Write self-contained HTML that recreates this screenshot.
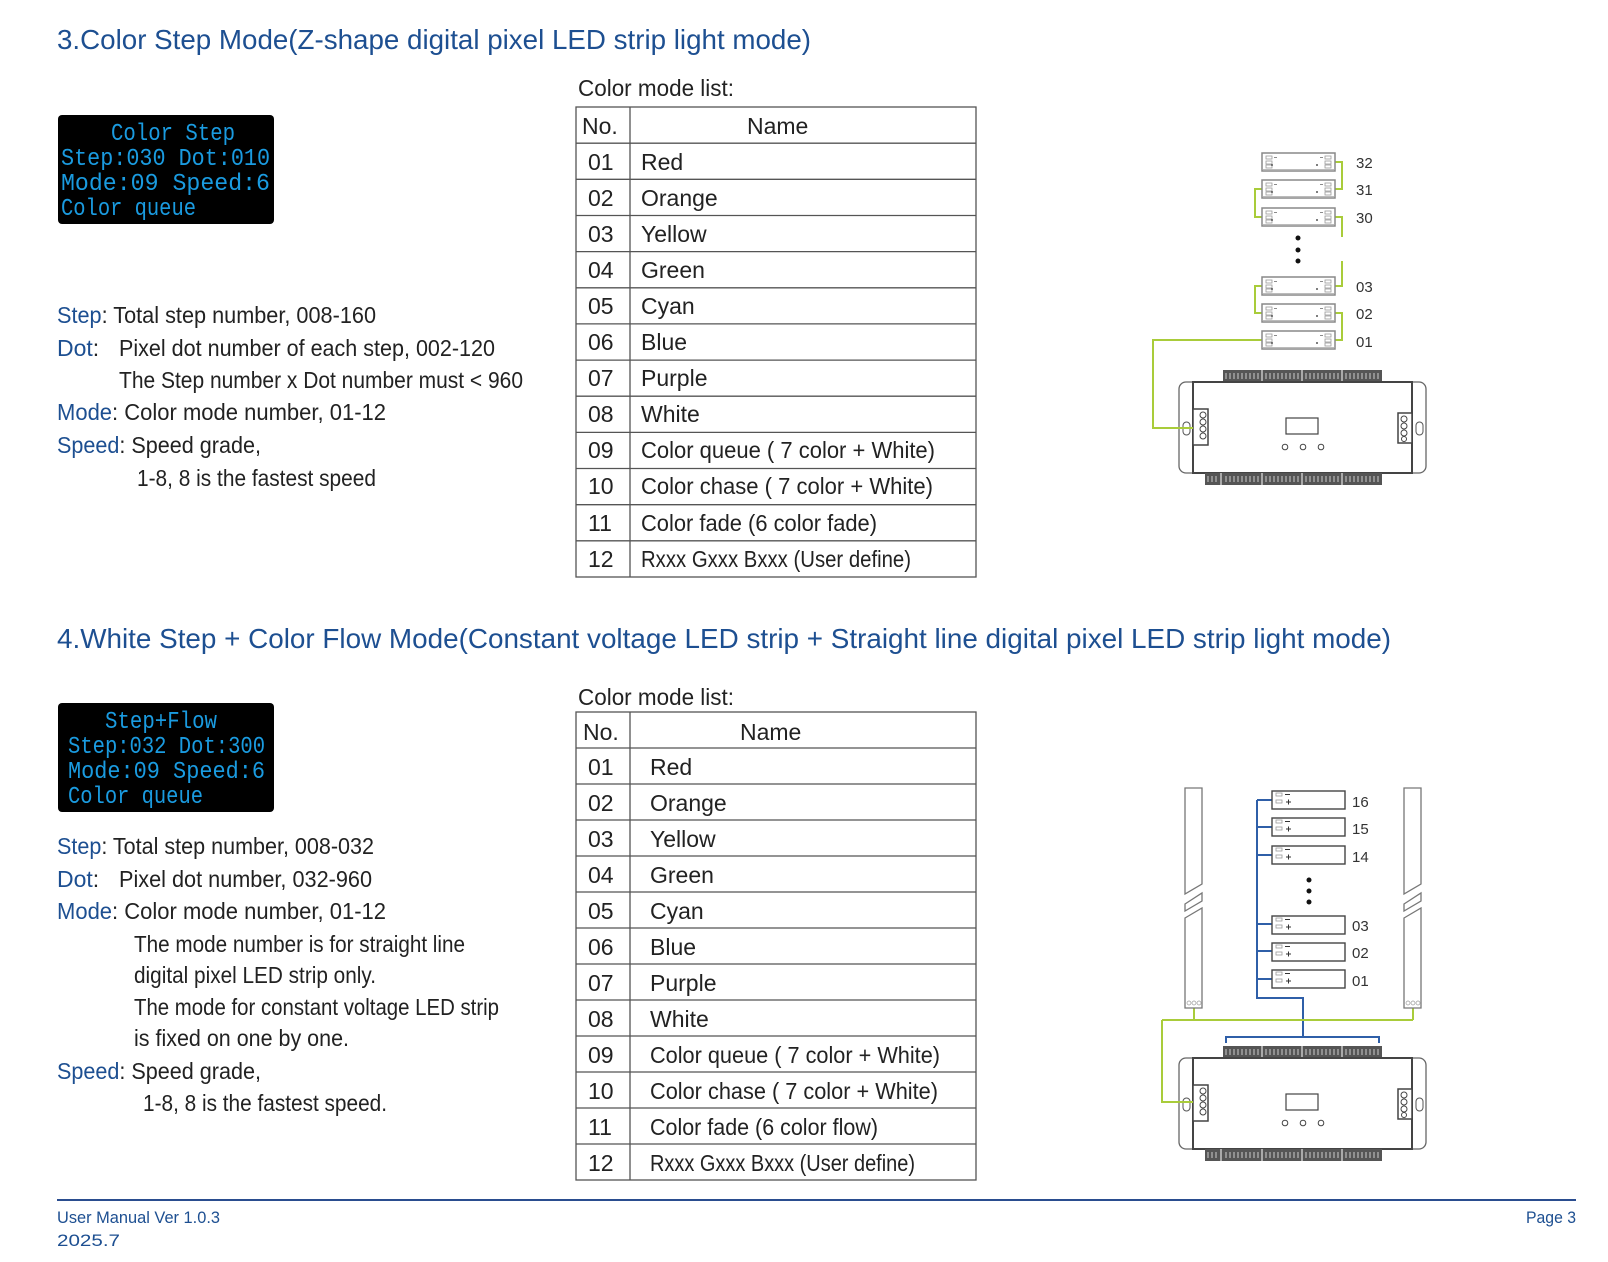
<!DOCTYPE html>
<html><head><meta charset="utf-8"><style>
html,body{margin:0;padding:0;background:#fff;width:1608px;height:1262px;overflow:hidden}
svg{display:block}
.t{font-family:"Liberation Sans",sans-serif;fill:#1d4f91}
.b{font-family:"Liberation Sans",sans-serif;fill:#222;font-size:23px}
.bl{fill:#1d4f91}
.m{font-family:"Liberation Mono",monospace;fill:#1a9be0;font-size:24px}
.n{font-family:"Liberation Sans",sans-serif;fill:#333;font-size:15px}
</style></head><body>
<svg width="1608" height="1262" viewBox="0 0 1608 1262" xmlns="http://www.w3.org/2000/svg">
<text class="t" x="57" y="49" font-size="28" textLength="754" lengthAdjust="spacingAndGlyphs">3.Color Step Mode(Z-shape digital pixel LED strip light mode)</text>
<text class="t" x="57" y="648" font-size="28" textLength="1334" lengthAdjust="spacingAndGlyphs">4.White Step + Color Flow Mode(Constant voltage LED strip + Straight line digital pixel LED strip light mode)</text>

<rect x="58" y="115" width="216" height="109" rx="4" fill="#000"/>
<text class="m" x="111" y="140" textLength="124" lengthAdjust="spacingAndGlyphs">Color Step</text>
<text class="m" x="61" y="165" textLength="209" lengthAdjust="spacingAndGlyphs">Step:030  Dot:010</text>
<text class="m" x="61" y="190" textLength="209" lengthAdjust="spacingAndGlyphs">Mode:09   Speed:6</text>
<text class="m" x="61" y="215" textLength="135" lengthAdjust="spacingAndGlyphs">Color queue</text>

<rect x="58" y="703" width="216" height="109" rx="4" fill="#000"/>
<text class="m" x="105" y="728" textLength="112" lengthAdjust="spacingAndGlyphs">Step+Flow</text>
<text class="m" x="68" y="753" textLength="197" lengthAdjust="spacingAndGlyphs">Step:032 Dot:300</text>
<text class="m" x="68" y="778" textLength="197" lengthAdjust="spacingAndGlyphs">Mode:09  Speed:6</text>
<text class="m" x="68" y="803" textLength="135" lengthAdjust="spacingAndGlyphs">Color queue</text>

<text class="b" x="57" y="323" textLength="319" lengthAdjust="spacingAndGlyphs"><tspan class="bl">Step</tspan>: Total step number, 008-160</text>
<text class="b" x="57" y="356"><tspan class="bl">Dot</tspan>:</text>
<text class="b" x="119" y="356" textLength="376" lengthAdjust="spacingAndGlyphs">Pixel dot number of each step, 002-120</text>
<text class="b" x="119" y="388" textLength="404" lengthAdjust="spacingAndGlyphs">The Step number x Dot number must &lt; 960</text>
<text class="b" x="57" y="420" textLength="329" lengthAdjust="spacingAndGlyphs"><tspan class="bl">Mode</tspan>: Color mode number, 01-12</text>
<text class="b" x="57" y="453" textLength="204" lengthAdjust="spacingAndGlyphs"><tspan class="bl">Speed</tspan>: Speed grade,</text>
<text class="b" x="137" y="486" textLength="239" lengthAdjust="spacingAndGlyphs">1-8, 8 is the fastest speed</text>

<text class="b" x="57" y="854" textLength="317" lengthAdjust="spacingAndGlyphs"><tspan class="bl">Step</tspan>: Total step number, 008-032</text>
<text class="b" x="57" y="887"><tspan class="bl">Dot</tspan>:</text>
<text class="b" x="119" y="887" textLength="253" lengthAdjust="spacingAndGlyphs">Pixel dot number, 032-960</text>
<text class="b" x="57" y="919" textLength="329" lengthAdjust="spacingAndGlyphs"><tspan class="bl">Mode</tspan>: Color mode number, 01-12</text>
<text class="b" x="134" y="952" textLength="331" lengthAdjust="spacingAndGlyphs">The mode number is for straight line</text>
<text class="b" x="134" y="983" textLength="242" lengthAdjust="spacingAndGlyphs">digital pixel LED strip only.</text>
<text class="b" x="134" y="1015" textLength="365" lengthAdjust="spacingAndGlyphs">The mode for constant voltage LED strip</text>
<text class="b" x="134" y="1046" textLength="215" lengthAdjust="spacingAndGlyphs">is fixed on one by one.</text>
<text class="b" x="57" y="1079" textLength="204" lengthAdjust="spacingAndGlyphs"><tspan class="bl">Speed</tspan>: Speed grade,</text>
<text class="b" x="143" y="1111" textLength="244" lengthAdjust="spacingAndGlyphs">1-8, 8 is the fastest speed.</text>

<text class="b" x="578" y="96" textLength="156" lengthAdjust="spacingAndGlyphs">Color mode list:</text>
<g stroke="#555" stroke-width="1.3" fill="none">
<rect x="576" y="107" width="400" height="470"/>
<line x1="630" y1="107" x2="630" y2="577"/>
<path d="M576 143.2H976M576 179.3H976M576 215.5H976M576 251.6H976M576 287.8H976M576 323.9H976M576 360.1H976M576 396.2H976M576 432.4H976M576 468.5H976M576 504.7H976M576 540.8H976"/>
</g>
<g>
<text x="582" y="134" class="b">No.</text><text x="747" y="134" class="b">Name</text>
<text x="588" y="170" class="b">01</text><text x="641" y="170" class="b">Red</text>
<text x="588" y="206" class="b">02</text><text x="641" y="206" class="b">Orange</text>
<text x="588" y="242" class="b">03</text><text x="641" y="242" class="b">Yellow</text>
<text x="588" y="278" class="b">04</text><text x="641" y="278" class="b">Green</text>
<text x="588" y="314" class="b">05</text><text x="641" y="314" class="b">Cyan</text>
<text x="588" y="350" class="b">06</text><text x="641" y="350" class="b">Blue</text>
<text x="588" y="386" class="b">07</text><text x="641" y="386" class="b">Purple</text>
<text x="588" y="422" class="b">08</text><text x="641" y="422" class="b">White</text>
<text x="588" y="458" class="b">09</text><text x="641" y="458" class="b" textLength="294" lengthAdjust="spacingAndGlyphs">Color queue ( 7 color + White)</text>
<text x="588" y="494" class="b">10</text><text x="641" y="494" class="b" textLength="292" lengthAdjust="spacingAndGlyphs">Color chase ( 7 color + White)</text>
<text x="588" y="531" class="b">11</text><text x="641" y="531" class="b" textLength="236" lengthAdjust="spacingAndGlyphs">Color fade (6 color fade)</text>
<text x="588" y="567" class="b">12</text><text x="641" y="567" class="b" textLength="270" lengthAdjust="spacingAndGlyphs">Rxxx Gxxx Bxxx (User define)</text>
</g>

<text class="b" x="578" y="705" textLength="156" lengthAdjust="spacingAndGlyphs">Color mode list:</text>
<g stroke="#555" stroke-width="1.3" fill="none">
<rect x="576" y="712" width="400" height="468"/>
<line x1="630" y1="712" x2="630" y2="1180"/>
<path d="M576 748H976M576 784H976M576 820H976M576 856H976M576 892H976M576 928H976M576 964H976M576 1000H976M576 1036H976M576 1072H976M576 1108H976M576 1144H976"/>
</g>
<g>
<text x="583" y="740" class="b">No.</text><text x="740" y="740" class="b">Name</text>
<text x="588" y="775" class="b">01</text><text x="650" y="775" class="b">Red</text>
<text x="588" y="811" class="b">02</text><text x="650" y="811" class="b">Orange</text>
<text x="588" y="847" class="b">03</text><text x="650" y="847" class="b">Yellow</text>
<text x="588" y="883" class="b">04</text><text x="650" y="883" class="b">Green</text>
<text x="588" y="919" class="b">05</text><text x="650" y="919" class="b">Cyan</text>
<text x="588" y="955" class="b">06</text><text x="650" y="955" class="b">Blue</text>
<text x="588" y="991" class="b">07</text><text x="650" y="991" class="b">Purple</text>
<text x="588" y="1027" class="b">08</text><text x="650" y="1027" class="b">White</text>
<text x="588" y="1063" class="b">09</text><text x="650" y="1063" class="b" textLength="290" lengthAdjust="spacingAndGlyphs">Color queue ( 7 color + White)</text>
<text x="588" y="1099" class="b">10</text><text x="650" y="1099" class="b" textLength="288" lengthAdjust="spacingAndGlyphs">Color chase ( 7 color + White)</text>
<text x="588" y="1135" class="b">11</text><text x="650" y="1135" class="b" textLength="228" lengthAdjust="spacingAndGlyphs">Color fade (6 color flow)</text>
<text x="588" y="1171" class="b">12</text><text x="650" y="1171" class="b" textLength="265" lengthAdjust="spacingAndGlyphs">Rxxx Gxxx Bxxx (User define)</text>
</g>

<defs>
<g id="zs">
<rect x="0" y="0" width="73" height="18" fill="#fff" stroke="#888" stroke-width="1.5"/>
<line x1="1" y1="16.5" x2="72" y2="16.5" stroke="#bbb" stroke-width="1"/>
<g fill="none" stroke="#999" stroke-width="0.8">
<rect x="4" y="3" width="6" height="3"/><rect x="4" y="8" width="6" height="3"/><rect x="4" y="12" width="6" height="3"/>
<rect x="63" y="3" width="6" height="3"/><rect x="63" y="8" width="6" height="3"/><rect x="63" y="12" width="6" height="3"/>
</g>
<path d="M12 4.5h3M58 4.5h3" stroke="#666" stroke-width="0.8"/>
<circle cx="10" cy="12" r="1" fill="#555"/><circle cx="55" cy="12" r="1" fill="#555"/>
</g>
<g id="cs">
<rect x="0" y="0" width="73" height="18" fill="#fff" stroke="#444" stroke-width="1.4"/>
<path d="M13 3.5h5M14 11h5M16.5 8.5v5" stroke="#333" stroke-width="1"/>
<rect x="4" y="2" width="6" height="3" fill="none" stroke="#999" stroke-width="0.8"/>
<rect x="4" y="9" width="6" height="3" fill="none" stroke="#999" stroke-width="0.8"/>
</g>
<g id="ctrl">
<rect x="1223" y="0" width="159" height="12" fill="#555"/>
<path d="M1226 3v6M1230 3v6M1234 3v6M1238 3v6M1242 3v6M1246 3v6M1250 3v6M1254 3v6M1258 3v6M1262 3v6M1266 3v6M1270 3v6M1274 3v6M1278 3v6M1282 3v6M1286 3v6M1290 3v6M1294 3v6M1298 3v6M1302 3v6M1306 3v6M1310 3v6M1314 3v6M1318 3v6M1322 3v6M1326 3v6M1330 3v6M1334 3v6M1338 3v6M1342 3v6M1346 3v6M1350 3v6M1354 3v6M1358 3v6M1362 3v6M1366 3v6M1370 3v6M1374 3v6M1378 3v6" stroke="#ccc" stroke-width="1"/>
<path d="M1262 0v12M1302 0v12M1342 0v12" stroke="#fff" stroke-width="1"/>
<rect x="1179" y="12" width="247" height="91" rx="7" fill="#fff" stroke="#666" stroke-width="1.3"/>
<rect x="1193" y="12" width="219" height="91" fill="#fff" stroke="#444" stroke-width="2"/>
<rect x="1205" y="103" width="177" height="12" fill="#555"/>
<path d="M1208 106v6M1212 106v6M1216 106v6M1226 106v6M1230 106v6M1234 106v6M1238 106v6M1242 106v6M1246 106v6M1250 106v6M1254 106v6M1258 106v6M1266 106v6M1270 106v6M1274 106v6M1278 106v6M1282 106v6M1286 106v6M1290 106v6M1294 106v6M1298 106v6M1306 106v6M1310 106v6M1314 106v6M1318 106v6M1322 106v6M1326 106v6M1330 106v6M1334 106v6M1338 106v6M1346 106v6M1350 106v6M1354 106v6M1358 106v6M1362 106v6M1366 106v6M1370 106v6M1374 106v6M1378 106v6" stroke="#ccc" stroke-width="1"/>
<path d="M1221 103v12M1262 103v12M1302 103v12M1342 103v12" stroke="#fff" stroke-width="1"/>
<rect x="1193" y="39" width="15" height="36" fill="#fff" stroke="#444" stroke-width="1.5"/>
<g fill="none" stroke="#444" stroke-width="1"><circle cx="1203" cy="45" r="3"/><circle cx="1203" cy="52" r="3"/><circle cx="1203" cy="59" r="3"/><circle cx="1203" cy="66" r="3"/></g>
<rect x="1398" y="43" width="14" height="30" fill="#fff" stroke="#444" stroke-width="1.5"/>
<g fill="none" stroke="#444" stroke-width="1"><circle cx="1404" cy="49" r="3"/><circle cx="1404" cy="56" r="3"/><circle cx="1404" cy="63" r="3"/><circle cx="1404" cy="69" r="2.5"/></g>
<rect x="1183" y="52" width="7" height="13" rx="3.5" fill="#fff" stroke="#555" stroke-width="1"/>
<rect x="1416" y="52" width="7" height="13" rx="3.5" fill="#fff" stroke="#555" stroke-width="1"/>
<rect x="1286" y="48" width="32" height="16" fill="#fff" stroke="#444" stroke-width="1.2"/>
<g fill="#fff" stroke="#444" stroke-width="1"><circle cx="1285" cy="77" r="2.8"/><circle cx="1303" cy="77" r="2.8"/><circle cx="1321" cy="77" r="2.8"/></g>
</g>
</defs>

<use href="#ctrl" y="370"/>
<g fill="none" stroke="#a9cc3a" stroke-width="2">
<path d="M1335 162H1342V189H1335"/>
<path d="M1262 189H1255V217H1262"/>
<path d="M1335 217H1342V237"/>
<path d="M1342 261V286H1335"/>
<path d="M1262 286H1255V313H1262"/>
<path d="M1335 313H1342V340H1335"/>
<path d="M1262 340H1153V428H1193"/>
</g>
<use href="#zs" x="1262" y="153"/>
<use href="#zs" x="1262" y="180"/>
<use href="#zs" x="1262" y="208"/>
<use href="#zs" x="1262" y="277"/>
<use href="#zs" x="1262" y="304"/>
<use href="#zs" x="1262" y="331"/>
<g fill="#111"><circle cx="1298" cy="238" r="2.5"/><circle cx="1298" cy="250" r="2.5"/><circle cx="1298" cy="261" r="2.5"/></g>
<text class="n" x="1356" y="168">32</text>
<text class="n" x="1356" y="195">31</text>
<text class="n" x="1356" y="223">30</text>
<text class="n" x="1356" y="292">03</text>
<text class="n" x="1356" y="319">02</text>
<text class="n" x="1356" y="347">01</text>

<use href="#ctrl" y="1046"/>
<g fill="none" stroke="#2f5fa8" stroke-width="2">
<path d="M1257 800V998H1303V1037"/>
<path d="M1257 800H1272M1257 827H1272M1257 855H1272M1257 924H1272M1257 951H1272M1257 979H1272"/>
<path d="M1226 1043V1037H1379V1043"/>
</g>
<g fill="none" stroke="#a9cc3a" stroke-width="2">
<path d="M1194 1008V1020M1413 1008V1020M1162 1020H1413M1162 1020V1102H1193"/>
</g>
<g fill="#fff" stroke="#777" stroke-width="1.3">
<path d="M1185 788H1202V884L1185 894Z"/>
<path d="M1185 904L1202 893V901L1185 911Z"/>
<path d="M1185 918L1202 908V1008H1185Z"/>
<path d="M1404 788H1421V884L1404 894Z"/>
<path d="M1404 904L1421 893V901L1404 911Z"/>
<path d="M1404 918L1421 908V1008H1404Z"/>
</g>
<g fill="none" stroke="#999" stroke-width="0.7">
<circle cx="1189" cy="1003" r="2"/><circle cx="1194" cy="1003" r="2"/><circle cx="1199" cy="1003" r="2"/>
<circle cx="1408" cy="1003" r="2"/><circle cx="1413" cy="1003" r="2"/><circle cx="1418" cy="1003" r="2"/>
</g>
<use href="#cs" x="1272" y="791"/>
<use href="#cs" x="1272" y="818"/>
<use href="#cs" x="1272" y="846"/>
<use href="#cs" x="1272" y="916"/>
<use href="#cs" x="1272" y="943"/>
<use href="#cs" x="1272" y="970"/>
<g fill="#111"><circle cx="1309" cy="880" r="2.5"/><circle cx="1309" cy="891" r="2.5"/><circle cx="1309" cy="902" r="2.5"/></g>
<text class="n" x="1352" y="807">16</text>
<text class="n" x="1352" y="834">15</text>
<text class="n" x="1352" y="862">14</text>
<text class="n" x="1352" y="931">03</text>
<text class="n" x="1352" y="958">02</text>
<text class="n" x="1352" y="986">01</text>

<line x1="57" y1="1200" x2="1576" y2="1200" stroke="#2a4d8f" stroke-width="2"/>
<text class="t" x="57" y="1223" font-size="17" fill="#3a64a8" textLength="163" lengthAdjust="spacingAndGlyphs">User Manual Ver 1.0.3</text>
<text class="t" x="57" y="1246" font-size="17" textLength="63" lengthAdjust="spacingAndGlyphs">2025.7</text>
<text class="t" x="1526" y="1223" font-size="17" textLength="50" lengthAdjust="spacingAndGlyphs">Page 3</text>
</svg>
</body></html>
